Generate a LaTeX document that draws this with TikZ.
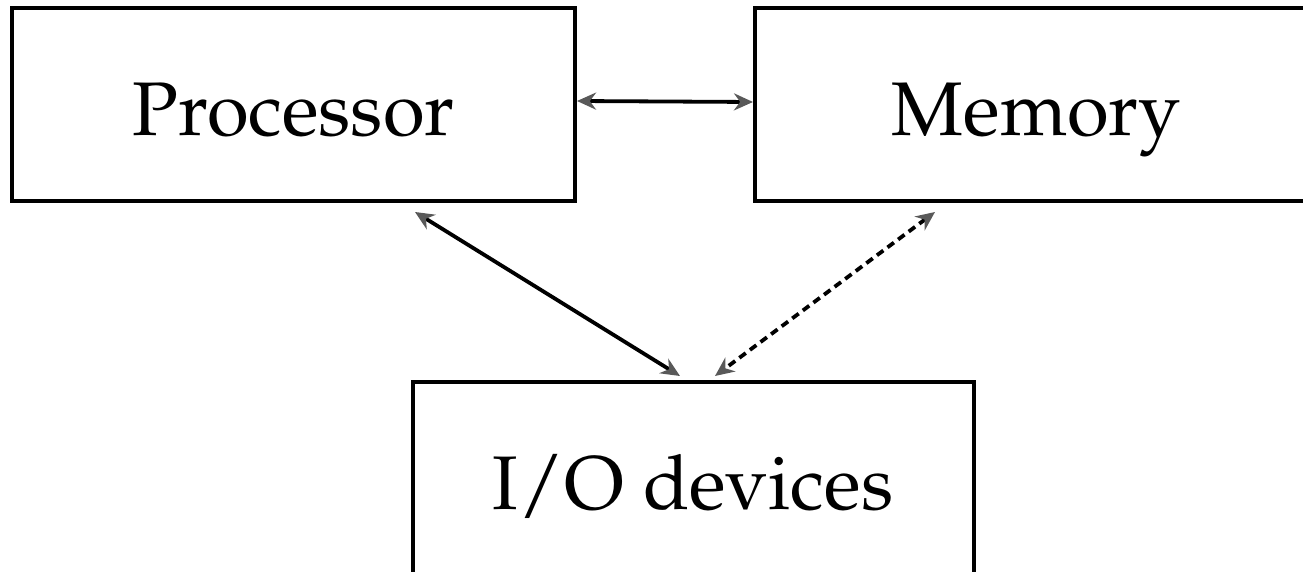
\documentclass[tikz,border=0pt]{standalone}
\usepackage[T1]{fontenc}
\usepackage{mathpazo}
\usetikzlibrary{arrows.meta,calc}

\tikzset{
  unitbox/.style={draw=black, line width=2pt, fill=white, inner sep=0pt,
    minimum width=281.5pt, minimum height=96.5pt,
    text height=31pt, text depth=0pt, font=\fontsize{38}{44}\selectfont},
  link/.style={line width=1.9pt, black,
    {Stealth[length=9.5pt,width=8.5pt,color=black!65]}-{Stealth[length=9.5pt,width=8.5pt,color=black!65]}},
  dashlink/.style={link, dash pattern=on 4pt off 2.6pt}
}

\begin{document}
\begin{tikzpicture}[x=0.5pt,y=-0.5pt]
  \useasboundingbox (0,0) rectangle (1303,572);

  % the three units of the machine
  \node[unitbox] (P)  at (293.5,104.5) {Processor};
  \node[unitbox] (M)  at (1036.5,104.5) {Memory};
  \node[unitbox, minimum width=280.5pt] (IO) at (693,478.5) {I/O devices};

  % connections between them
  \draw[link] (P.east |- 0,101) -- (M.west |- 0,102);
  \draw[link] ([shift={(-162,9)}]P.south east) -- ([shift={(-13,-4)}]IO.north);
  \draw[dashlink] ([shift={(-101.5,9)}]M.south) -- ([shift={(22,-4)}]IO.north);
\end{tikzpicture}
\end{document}
